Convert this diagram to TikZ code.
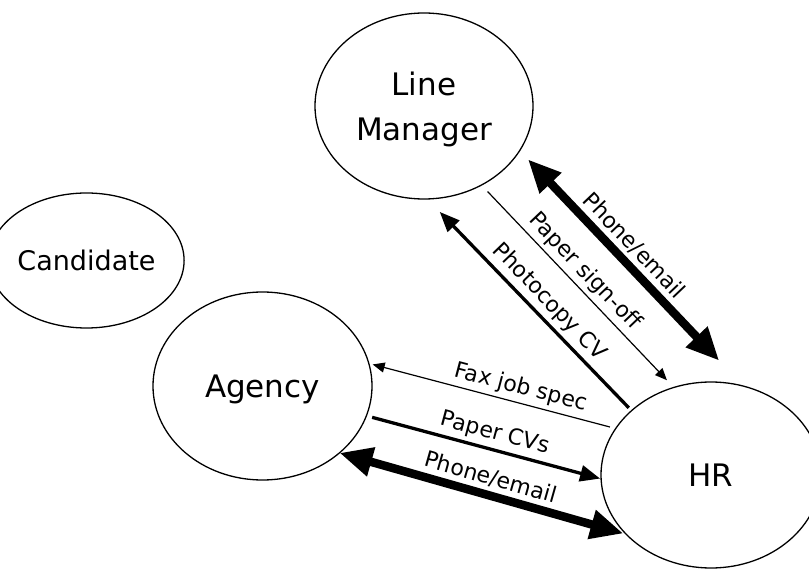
\documentclass[tikz,border=0pt]{standalone}
\usepackage{fontspec}
\setmainfont{DejaVu Sans}
\usetikzlibrary{arrows.meta,shapes.geometric}

\begin{document}
\begin{tikzpicture}[x=1pt,y=-1pt,line width=1.3pt]
        \tikzstyle{party}=[ellipse,draw=black,inner sep=0pt,outer sep=0pt,align=center,text depth=0pt,font=\fontsize{31}{45}\selectfont]
        \tikzstyle{thinlink}=[line width=1.2pt,>={Triangle[length=12pt,width=10pt]}]
        \tikzstyle{paperlink}=[line width=3.3pt,>={Triangle[length=20pt,width=16pt]}]
        \tikzstyle{phonelink}=[line width=8.5pt,>={Triangle[length=33pt,width=28pt]}]
        \tikzstyle{linktext}=[sloped,above,inner sep=4pt,font=\fontsize{22}{26}\selectfont]

        \useasboundingbox (0,0) rectangle (809,569);

        \node[party,minimum width=218pt,minimum height=186pt] (LM)   at (424,106)    {Line\\Manager};
        \node[party,minimum width=154pt,minimum height=135pt,font=\fontsize{27}{32}\selectfont]
                                                              (Cand) at (86.5,260.5) {Candidate};
        \node[party,minimum width=219pt,minimum height=188pt] (Ag)   at (262.5,386)  {Agency};
        \node[party,minimum width=220pt,minimum height=186pt] (HR)   at (711,475)    {HR};

        \path[phonelink] (LM.-25)   edge [<->,shorten <=12pt,shorten >=35pt] node[linktext,pos=0.455] {Phone/email} (HR.70)
                         (Ag.-41.4) edge [<->,shorten >=3pt]                 node[linktext,pos=0.51]  {Phone/email} (HR.215)
        ;

        \path[paperlink] (LM.-88)   edge [<-,shorten <=18pt,shorten >=4pt]   node[linktext,pos=0.54]  {Photocopy CV} (HR.141)
                         (Ag.-16.4) edge [->,shorten <=6pt,shorten >=1pt]    node[linktext,pos=0.53]  {Paper CVs} (HR.182)
        ;

        \path[thinlink]  (LM.-54.5) edge [->,shorten <=9pt,shorten >=10pt]   node[linktext,pos=0.48]  {Paper sign-off} (HR.113)
                         (Ag.12.7)  edge [<-,shorten <=4pt,shorten >=6pt]    node[linktext,pos=0.6]   {Fax job spec} (HR.154)
        ;
\end{tikzpicture}
\end{document}
